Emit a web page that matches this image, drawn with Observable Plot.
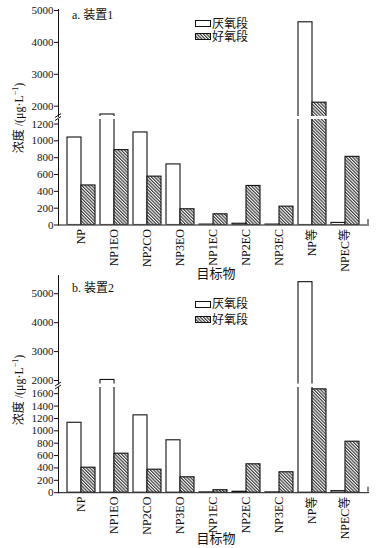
<!DOCTYPE html>
<html><head><meta charset="utf-8">
<script src="https://cdn.jsdelivr.net/npm/d3@7"></script>
<script src="https://cdn.jsdelivr.net/npm/@observablehq/plot@0.6"></script>
<style>
body{margin:0;background:#fff;}
#root{position:relative;width:376px;height:548px;overflow:hidden;font-family:"Liberation Serif","Noto Sans CJK SC",serif;color:#111;}
.seg{position:absolute;left:0;}
.txt{position:absolute;font-size:12px;white-space:nowrap;line-height:1;}
.ytitle{position:absolute;font-size:12px;white-space:nowrap;line-height:1;transform:translate(-50%,-50%) rotate(-90deg);}
.xtitle{position:absolute;font-size:13px;white-space:nowrap;line-height:1;transform:translate(-50%,-50%);}
.lgbox{position:absolute;width:14px;height:5px;border:1px solid #111;background:#fff;}
</style>
</head><body>
<svg width="0" height="0" style="position:absolute">
  <defs>
    <pattern id="hatch" patternUnits="userSpaceOnUse" width="2.3" height="2.3" patternTransform="rotate(-45)">
      <rect width="2.3" height="2.3" fill="#fff"/>
      <line x1="0.6" y1="0" x2="0.6" y2="2.3" stroke="#2a2a2a" stroke-width="1.1"/>
    </pattern>
  </defs>
</svg>
<div id="root"></div>
<script>
const categories = ["NP","NP1EO","NP2CO","NP3EO","NP1EC","NP2EC","NP3EC","NP等","NPEC等"];
const anaerobicA = [1040, 1740, 1100, 720, 5, 15, 5, 4630, 25];
const aerobicA   = [470, 890, 575, 187, 127, 464, 218, 2110, 810];
const anaerobicB = [1130, 2020, 1250, 847, 5, 15, 5, 5400, 25];
const aerobicB   = [404, 630, 372, 249, 40, 459, 330, 1670, 824];
const ticksUpperA = [2000, 3000, 4000, 5000];
const ticksLowerA = [0, 200, 400, 600, 800, 1000, 1200];
const ticksUpperB = [2000, 3000, 4000, 5000];
const ticksLowerB = [0, 200, 400, 600, 800, 1000, 1200, 1400, 1600];
const seriesNames = ["厌氧段", "好氧段"];

const root = document.getElementById("root");
const FONT = '"Liberation Serif","Noto Sans CJK SC",serif';

function segment({anaer, aer, domain, ticks, top, bottom, xAxis}) {
  const mt = 8, mb = xAxis ? 52 : 0;
  const h = bottom - top;
  const data = categories.map((c, i) => ({c, a: anaer[i], b: aer[i]}));
  const svg = Plot.plot({
    width: 376, height: h + mt + mb,
    marginLeft: 58, marginRight: 8, marginTop: mt, marginBottom: mb,
    style: {fontFamily: FONT, fontSize: "11px", color: "#111", background: "transparent", overflow: "visible"},
    x: {domain: categories, paddingInner: 0.164, paddingOuter: 0.209, axis: null},
    y: {domain, axis: null},
    marks: [
      Plot.barY(data, {x: "c", y: "a", fill: "white", stroke: "#111", strokeWidth: 1.1, insetRight: 14, clip: true}),
      Plot.barY(data, {x: "c", y: "b", fill: "url(#hatch)", stroke: "#111", strokeWidth: 1.1, insetLeft: 14, clip: true}),
      Plot.axisY({ticks, tickSize: 4, tickPadding: 1, fontSize: 11, tickFormat: d => String(d), label: null, stroke: "#111"}),
      Plot.frame({anchor: "left", stroke: "#111"}),
      xAxis ? Plot.frame({anchor: "bottom", stroke: "#111"}) : null,
      xAxis ? Plot.axisX({tickRotate: -90, tickSize: 0, tickPadding: 4, fontSize: 12, label: null}) : null
    ]
  });
  const d = document.createElement("div");
  d.className = "seg";
  d.style.top = (top - mt) + "px";
  d.appendChild(svg);
  root.appendChild(d);
}

function addText(cls, txt, x, y, html) {
  const e = document.createElement("div");
  e.className = cls;
  if (html) e.innerHTML = txt; else e.textContent = txt;
  e.style.left = x + "px"; e.style.top = y + "px";
  root.appendChild(e);
  return e;
}

function legend(y1, y2) {
  const b1 = document.createElement("div");
  b1.className = "lgbox"; b1.style.left = "195px"; b1.style.top = (y1 - 3.5) + "px";
  root.appendChild(b1);
  const b2 = document.createElement("div");
  b2.className = "lgbox"; b2.style.left = "195px"; b2.style.top = (y2 - 3.5) + "px";
  b2.innerHTML = '<svg width="14" height="5" style="display:block"><rect width="14" height="5" fill="url(#hatch)"/></svg>';
  root.appendChild(b2);
  addText("txt", seriesNames[0], 212, y1 - 6);
  addText("txt", seriesNames[1], 212, y2 - 6);
}

// Panel a
segment({anaer: anaerobicA, aer: aerobicA, domain: [1677, 5031], ticks: ticksUpperA, top: 9, bottom: 116, xAxis: false});
segment({anaer: anaerobicA, aer: aerobicA, domain: [0, 1254], ticks: ticksLowerA, top: 118.5, bottom: 224, xAxis: true});
addText("txt", "a. 装置1", 72, 9);
legend(23.5, 36.5);
addText("ytitle", "浓度 /(μg·L<sup style='font-size:8px'>−1</sup>)", 18, 118, true);
addText("xtitle", "目标物", 216, 273);

// Panel b
segment({anaer: anaerobicB, aer: aerobicB, domain: [1880, 5630], ticks: ticksUpperB, top: 275, bottom: 383.5, xAxis: false});
segment({anaer: anaerobicB, aer: aerobicB, domain: [0, 1700], ticks: ticksLowerB, top: 386.5, bottom: 491.7, xAxis: true});
addText("txt", "b. 装置2", 72, 282);
legend(304, 319.5);
addText("ytitle", "浓度 /(μg·L<sup style='font-size:8px'>−1</sup>)", 18, 390, true);
addText("xtitle", "目标物", 216, 538);

// axis break marks and axis end ticks
const deco = document.createElementNS("http://www.w3.org/2000/svg", "svg");
deco.setAttribute("width", 376); deco.setAttribute("height", 548);
deco.style.position = "absolute"; deco.style.left = "0"; deco.style.top = "0"; deco.style.pointerEvents = "none";
deco.innerHTML = `
  <g stroke="#111" stroke-width="1" fill="none">
    <line x1="55" y1="117.5" x2="61" y2="113.5"/><line x1="55" y1="120.5" x2="61" y2="116.5"/>
    <line x1="55" y1="386" x2="61" y2="382"/><line x1="55" y1="389" x2="61" y2="385"/>
    <line x1="368" y1="224" x2="368" y2="219"/>
    <line x1="368" y1="491.7" x2="368" y2="486.7"/>
  </g>`;
root.appendChild(deco);
</script>
</body></html>
